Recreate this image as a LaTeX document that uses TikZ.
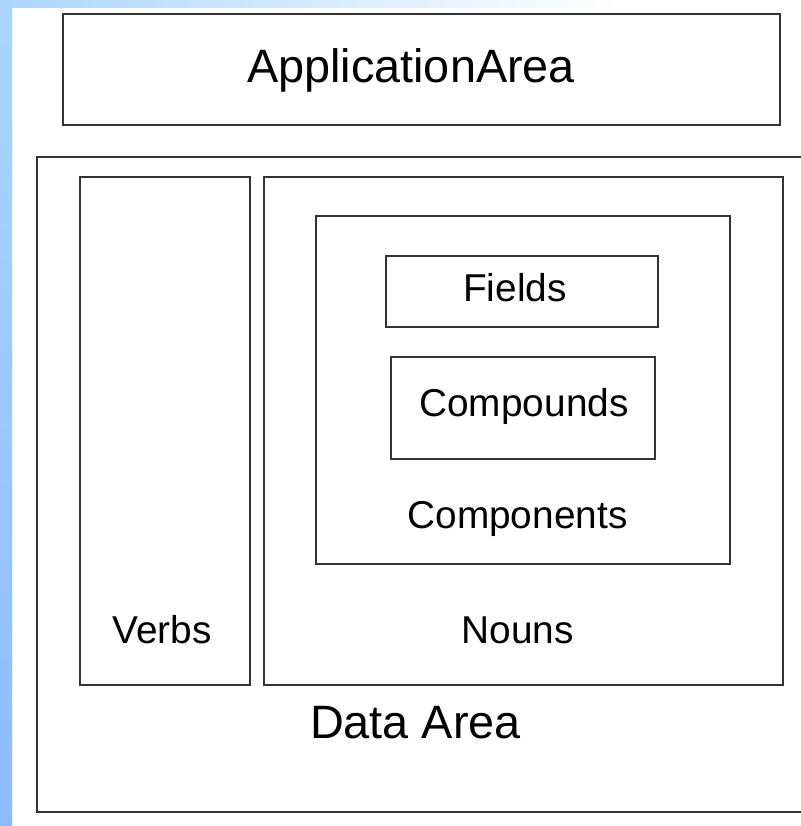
\documentclass[tikz,border=0pt]{standalone}
\usepackage{fontspec}
\setmainfont{Liberation Sans}
\usepackage{tikz}

\definecolor{stripTop}{HTML}{A9D6FF}
\definecolor{stripBot}{HTML}{8BBBFF}
\definecolor{boxline}{HTML}{333333}

\tikzset{
  area/.style={draw=boxline,line width=1.3pt,inner sep=0pt},
  biglabel/.style={anchor=base,inner sep=0pt,font=\fontsize{33.3}{36}\selectfont},
  label/.style={anchor=base,inner sep=0pt,font=\fontsize{27.6}{30}\selectfont}
}

\begin{document}
\begin{tikzpicture}[x=0.025cm,y=-0.025cm]
        \useasboundingbox (0,0) rectangle (800,826);
        \fill[white] (0,0) rectangle (800,826);

        % blue border of the slide
        \shade[top color=stripTop,bottom color=stripBot] (0,0) rectangle (12,826);
        \shade[left color=stripTop,right color=white] (0,0) rectangle (620,8);
        \fill[stripTop] (0,0) rectangle (12,8);

        \node[area,minimum width=17.925cm,minimum height=2.775cm] (app) at (421.5,69.5) {};
        \node[biglabel] (appT) at (411,83) {ApplicationArea};

        \node[area,minimum width=19.225cm,minimum height=16.375cm] (data) at (421.5,484.5) {};
        \node[biglabel] (dataT) at (415.5,738) {Data Area};

        \node[area,minimum width=4.25cm,minimum height=12.7cm] (verbs) at (165,431) {};
        \node[label] (verbsT) at (162,643) {Verbs};

        \node[area,minimum width=12.975cm,minimum height=12.7cm] (nouns) at (523.5,431) {};
        \node[label] (nounsT) at (517.5,643) {Nouns};

        \node[area,minimum width=10.35cm,minimum height=8.7cm] (comps) at (523,390) {};
        \node[label] (compsT) at (517.5,528) {Components};

        \node[area,minimum width=6.8cm,minimum height=1.775cm] (fields) at (522,291.5) {};
        \node[label] (fieldsT) at (515,302) {Fields};

        \node[area,minimum width=6.6cm,minimum height=2.55cm] (cpd) at (523,408) {};
        \node[label] (cpdT) at (524,416) {Compounds};
\end{tikzpicture}
\end{document}
